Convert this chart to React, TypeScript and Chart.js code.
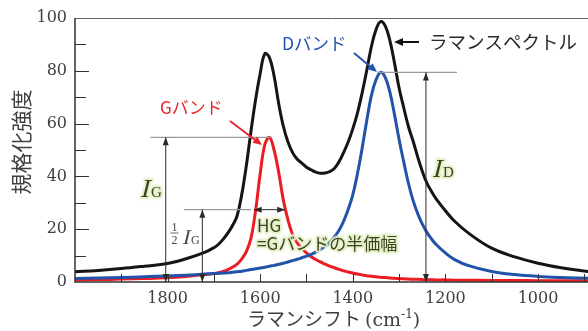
import React, { useEffect, useRef } from 'react';
import { Chart, registerables } from 'chart.js';

Chart.register(...registerables);

// Raman shift (cm-1), sampled along the curves
const ramanShift = [2000, 1950, 1900, 1850, 1800, 1760, 1720, 1700, 1690, 1680, 1670, 1660, 1650, 1640, 1630, 1620, 1610, 1600, 1590, 1580, 1570, 1560, 1550, 1540, 1530, 1520, 1510, 1500, 1490, 1480, 1470, 1460, 1450, 1440, 1430, 1420, 1410, 1400, 1390, 1380, 1370, 1360, 1350, 1340, 1330, 1320, 1310, 1300, 1290, 1280, 1270, 1260, 1250, 1240, 1230, 1220, 1200, 1180, 1150, 1100, 1050, 1000, 950, 890];

// ラマンスペクトル (black)
const spectrum = [3.9, 4.4, 5.1, 6.0, 7.0, 8.8, 11.2, 13.0, 14.3, 16.2, 18.5, 21.3, 25.0, 33.0, 44.0, 57.0, 69.0, 79.0, 86.5, 85.0, 78.0, 67.5, 59.0, 53.0, 49.0, 46.5, 45.0, 43.5, 42.5, 41.6, 41.2, 41.3, 41.8, 43.0, 45.5, 49.0, 53.0, 58.0, 64.0, 71.5, 80.0, 89.0, 95.5, 98.6, 97.0, 91.5, 83.0, 73.5, 66.0, 59.0, 53.5, 47.5, 42.0, 37.5, 34.3, 31.5, 27.0, 23.0, 18.5, 12.8, 9.5, 7.1, 5.4, 3.9];

// Dバンド (blue)
const dBand = [1.3, 1.5, 1.7, 2.0, 2.3, 2.6, 3.0, 3.2, 3.3, 3.4, 3.5, 3.7, 3.9, 4.1, 4.4, 4.7, 5.0, 5.3, 5.6, 6.0, 6.3, 6.7, 7.1, 7.6, 8.1, 8.6, 9.2, 9.8, 10.5, 11.3, 12.3, 13.5, 15.0, 17.0, 19.5, 23.0, 27.5, 33.0, 41.0, 50.5, 61.0, 70.5, 76.5, 79.4, 77.5, 72.0, 63.5, 54.0, 45.5, 37.5, 31.0, 26.0, 22.0, 18.8, 16.3, 14.2, 11.0, 8.5, 6.2, 4.0, 2.8, 2.1, 1.7, 1.4];

// Gバンド (red)
const gBand = [0.8, 0.9, 1.1, 1.3, 1.6, 2.1, 2.8, 3.2, 3.5, 4.0, 4.7, 5.6, 6.8, 8.7, 11.5, 16.5, 27.0, 41.0, 52.0, 54.8, 50.0, 41.5, 31.0, 23.5, 18.0, 14.8, 12.7, 11.0, 9.6, 8.5, 7.6, 6.8, 6.0, 5.4, 4.8, 4.2, 3.8, 3.4, 3.0, 2.7, 2.4, 2.2, 2.0, 1.8, 1.7, 1.5, 1.4, 1.3, 1.2, 1.1, 1.0, 1.0, 0.9, 0.9, 0.85, 0.8, 0.8, 0.7, 0.7, 0.6, 0.6, 0.5, 0.5, 0.5];

const xTickLabels = [1800, 1600, 1400, 1200, 1000];
const yTickLabels = [0, 20, 40, 60, 80, 100];

// annotation reference values
const gPeak = 54.8;
const dPeak = 79.4;
const igArrowX = 1804;
const halfArrowX = 1725;
const idArrowX = 1242;
const hgLeft = 1614;
const hgRight = 1546;

const TXT = '#404040';
const OLIVE = '#3a4520';
const GLOW = 'rgba(228,240,200,0.9)';

function arrowHead(ctx: CanvasRenderingContext2D, fx: number, fy: number, tx: number, ty: number, len: number, w: number, color: string) {
  const a = Math.atan2(ty - fy, tx - fx);
  ctx.save();
  ctx.fillStyle = color;
  ctx.beginPath();
  ctx.moveTo(tx, ty);
  ctx.lineTo(tx - len * Math.cos(a) + (w / 2) * Math.sin(a), ty - len * Math.sin(a) - (w / 2) * Math.cos(a));
  ctx.lineTo(tx - len * Math.cos(a) - (w / 2) * Math.sin(a), ty - len * Math.sin(a) + (w / 2) * Math.cos(a));
  ctx.closePath();
  ctx.fill();
  ctx.restore();
}

function arrow(ctx: CanvasRenderingContext2D, fx: number, fy: number, tx: number, ty: number, color: string, lw: number, len: number, w: number) {
  const a = Math.atan2(ty - fy, tx - fx);
  ctx.save();
  ctx.strokeStyle = color;
  ctx.lineWidth = lw;
  ctx.beginPath();
  ctx.moveTo(fx, fy);
  ctx.lineTo(tx - (len - 1) * Math.cos(a), ty - (len - 1) * Math.sin(a));
  ctx.stroke();
  ctx.restore();
  arrowHead(ctx, fx, fy, tx, ty, len, w, color);
}

function doubleArrow(ctx: CanvasRenderingContext2D, x1: number, y1: number, x2: number, y2: number, color: string) {
  ctx.save();
  ctx.strokeStyle = color;
  ctx.lineWidth = 1;
  ctx.beginPath();
  ctx.moveTo(x1, y1);
  ctx.lineTo(x2, y2);
  ctx.stroke();
  ctx.restore();
  arrowHead(ctx, x2, y2, x1, y1, 8, 6, color);
  arrowHead(ctx, x1, y1, x2, y2, 8, 6, color);
}

function drawText(ctx: CanvasRenderingContext2D, text: string, x: number, y: number, font: string, color: string, glow: boolean, skew = 0) {
  ctx.save();
  ctx.translate(x, y);
  if (skew) ctx.transform(1, 0, -skew, 1, 0, 0);
  ctx.font = font;
  ctx.textBaseline = 'alphabetic';
  ctx.textAlign = 'left';
  if (glow) {
    ctx.save();
    ctx.shadowColor = GLOW;
    ctx.shadowBlur = 3;
    ctx.strokeStyle = GLOW;
    ctx.lineJoin = 'round';
    ctx.lineWidth = 3.5;
    ctx.strokeText(text, 0, 0);
    ctx.restore();
  }
  ctx.fillStyle = color;
  ctx.fillText(text, 0, 0);
  ctx.restore();
}

const decorPlugin = {
  id: 'decor',
  afterDraw(chart: any) {
    const ctx: CanvasRenderingContext2D = chart.ctx;
    const xs = chart.scales.x;
    const ys = chart.scales.y;
    const X = (v: number) => xs.getPixelForValue(v);
    const Y = (v: number) => ys.getPixelForValue(v);
    const ca = chart.chartArea;

    ctx.save();
    // frame
    ctx.strokeStyle = '#666';
    ctx.lineWidth = 1;
    ctx.beginPath();
    ctx.moveTo(ca.left, ca.top + 0.5);
    ctx.lineTo(ca.right, ca.top + 0.5);
    ctx.stroke();
    ctx.strokeStyle = '#333';
    ctx.lineWidth = 1.5;
    ctx.beginPath();
    ctx.moveTo(ca.left, ca.top);
    ctx.lineTo(ca.left, ca.bottom);
    ctx.lineTo(ca.right, ca.bottom);
    ctx.stroke();
    // inward ticks
    ctx.lineWidth = 1;
    ctx.strokeStyle = '#333';
    for (let v = 10; v < 100; v += 10) {
      const y = Math.round(Y(v)) + 0.5;
      const len = v % 20 === 0 ? 14 : 11;
      ctx.beginPath();
      ctx.moveTo(ca.left, y);
      ctx.lineTo(ca.left + len, y);
      ctx.stroke();
    }
    for (let v = 1900; v >= 900; v -= 100) {
      const x = Math.round(X(v)) + 0.5;
      if (x > ca.right) continue;
      ctx.beginPath();
      ctx.moveTo(x, ca.bottom);
      ctx.lineTo(x, ca.bottom - 8);
      ctx.stroke();
    }
    ctx.restore();

    // gray reference lines
    ctx.save();
    ctx.strokeStyle = '#9a9a9a';
    ctx.lineWidth = 1.2;
    ctx.beginPath();
    ctx.moveTo(X(1837), Y(gPeak));
    ctx.lineTo(X(1574), Y(gPeak));
    ctx.moveTo(X(1765), Y(gPeak / 2));
    ctx.lineTo(X(1620), Y(gPeak / 2));
    ctx.moveTo(X(1347), Y(dPeak));
    ctx.lineTo(X(1175), Y(dPeak));
    ctx.stroke();
    ctx.restore();

    // vertical double arrows
    doubleArrow(ctx, X(igArrowX), Y(gPeak), X(igArrowX), Y(0), '#2a2a2a');
    doubleArrow(ctx, X(halfArrowX), Y(gPeak / 2), X(halfArrowX), Y(0), '#2a2a2a');
    doubleArrow(ctx, X(idArrowX), Y(dPeak), X(idArrowX), Y(0), '#2a2a2a');
    // HG arrow
    doubleArrow(ctx, X(hgLeft), Y(gPeak / 2), X(hgRight), Y(gPeak / 2), '#2a2a2a');

    // band labels + pointer arrows
    const jp = '"Noto Sans CJK JP", "Noto Sans", sans-serif';
    drawText(ctx, 'Gバンド', 160, 114, `17px ${jp}`, '#e8262e', false);
    arrow(ctx, 230, 121, 262, 145, '#e8262e', 2, 9, 8);
    drawText(ctx, 'Dバンド', 282, 50, `17.5px ${jp}`, '#2454b0', false);
    arrow(ctx, 354, 53, 377, 72, '#2454b0', 2, 9, 8);
    drawText(ctx, 'ラマンスペクトル', 429, 49, `18.5px ${jp}`, '#2a2a2a', false);
    arrow(ctx, 419, 42, 394, 42, '#111', 2, 9, 8);

    // I_G, I_D
    const ser = '"Liberation Serif", "DejaVu Serif", serif';
    drawText(ctx, 'I', 140, 197, `26px ${ser}`, OLIVE, true, 0.25);
    drawText(ctx, 'G', 151, 197, `15px ${ser}`, OLIVE, true);
    drawText(ctx, 'I', 432, 177, `26px ${ser}`, OLIVE, true, 0.25);
    drawText(ctx, 'D', 443, 177, `15px ${ser}`, OLIVE, true);

    // 1/2 I_G
    ctx.save();
    ctx.font = `12px ${ser}`;
    ctx.fillStyle = '#444';
    ctx.textAlign = 'center';
    ctx.fillText('1', 174.5, 230.5);
    ctx.fillText('2', 174.5, 243.5);
    ctx.strokeStyle = '#444';
    ctx.lineWidth = 0.8;
    ctx.beginPath();
    ctx.moveTo(170.5, 233);
    ctx.lineTo(178.5, 233);
    ctx.stroke();
    ctx.restore();
    drawText(ctx, 'I', 182, 243.5, `21px ${ser}`, '#444', false, 0.25);
    drawText(ctx, 'G', 191, 243.5, `12px ${ser}`, '#444', false);

    // HG text
    drawText(ctx, 'HG', 257, 232, `17px ${jp}`, OLIVE, true);
    drawText(ctx, '=Gバンドの半価幅', 257, 250, `17px ${jp}`, OLIVE, true);

    // axis titles
    ctx.save();
    ctx.translate(21, 142);
    ctx.rotate(-Math.PI / 2);
    ctx.font = `21px ${jp}`;
    ctx.fillStyle = TXT;
    ctx.textAlign = 'center';
    ctx.textBaseline = 'middle';
    ctx.fillText('規格化強度', 0, 0);
    ctx.restore();

    ctx.save();
    ctx.fillStyle = TXT;
    ctx.textBaseline = 'alphabetic';
    let x = 247;
    const base = 326;
    ctx.font = `19px ${jp}`;
    ctx.fillText('ラマンシフト', x, base);
    x += ctx.measureText('ラマンシフト').width + 4;
    ctx.font = '19px "DejaVu Serif", serif';
    ctx.fillText('(cm', x, base);
    x += ctx.measureText('(cm').width;
    ctx.font = '12px "DejaVu Serif", serif';
    ctx.fillText('-1', x, base - 8);
    x += ctx.measureText('-1').width;
    ctx.font = '19px "DejaVu Serif", serif';
    ctx.fillText(')', x, base);
    ctx.restore();
  },
};

export default function App() {
  const ref = useRef<HTMLCanvasElement | null>(null);
  useEffect(() => {
    if (!ref.current) return;
    const pts = (arr: number[]) => ramanShift.map((x, i) => ({ x, y: arr[i] }));
    const common = { borderWidth: 3, pointRadius: 0, tension: 0.4, fill: false };
    const chart = new Chart(ref.current, {
      type: 'line',
      data: {
        datasets: [
          { label: 'ラマンスペクトル', data: pts(spectrum), borderColor: '#151515', ...common },
          { label: 'Dバンド', data: pts(dBand), borderColor: '#2353a8', ...common },
          { label: 'Gバンド', data: pts(gBand), borderColor: '#ec1c24', ...common },
        ],
      },
      options: {
        animation: false,
        responsive: false,
        maintainAspectRatio: false,
        layout: { padding: { top: 18, right: 0, left: 0, bottom: 0 } },
        plugins: { legend: { display: false }, tooltip: { enabled: false }, title: { display: false } },
        scales: {
          x: {
            type: 'linear',
            reverse: true,
            min: 892,
            max: 2000,
            afterBuildTicks: (s: any) => { s.ticks = xTickLabels.map((v) => ({ value: v })); },
            afterFit: (s: any) => { s.height = 49; },
            grid: { display: false, drawTicks: false },
            border: { display: false },
            ticks: { padding: 7.5, autoSkip: false, maxRotation: 0, color: TXT, font: { family: '"DejaVu Serif", serif', size: 16 }, callback: (v: any) => String(v) },
          },
          y: {
            type: 'linear',
            min: 0,
            max: 100,
            afterBuildTicks: (s: any) => { s.ticks = yTickLabels.map((v) => ({ value: v })); },
            afterFit: (s: any) => { s.width = 75; },
            grid: { display: false, drawTicks: false },
            border: { display: false },
            ticks: { padding: 8, color: TXT, font: { family: '"DejaVu Serif", serif', size: 16 }, callback: (v: any) => String(v) },
          },
        },
      },
      plugins: [decorPlugin],
    } as any);
    return () => chart.destroy();
  }, []);
  return (
    <div style={{ position: 'fixed', left: 0, top: 0, width: 588, height: 331, background: '#fff' }}>
      <canvas ref={ref} width={588} height={331} style={{ display: 'block', width: 588, height: 331 }} />
    </div>
  );
}
